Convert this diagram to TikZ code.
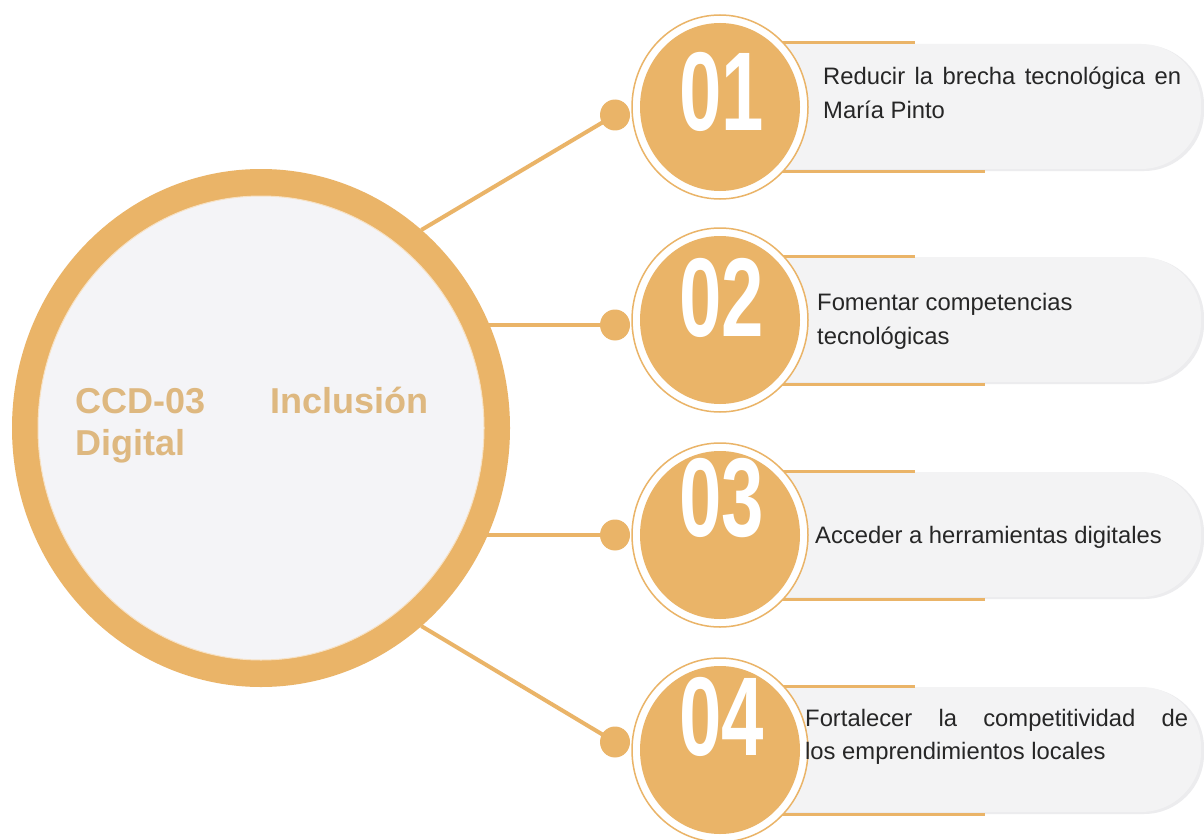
\documentclass[tikz,border=0pt]{standalone}
\usepackage{fontspec}
\usepackage{graphicx}
\setmainfont{Liberation Sans}
\usetikzlibrary{shapes.geometric}
\definecolor{ora}{RGB}{234,180,104}
\definecolor{oratxt}{RGB}{222,184,128}
\definecolor{pillgray}{RGB}{243,243,244}
\definecolor{pillshadow}{RGB}{236,236,238}
\definecolor{innergray}{RGB}{244,244,247}
\definecolor{txt}{RGB}{38,38,38}
\pgfdeclarelayer{bg}
\pgfdeclarelayer{lines}
\pgfsetlayers{bg,lines,main}
\begin{document}
\begin{tikzpicture}[x=1pt,y=-1pt,
  oval/.style={ellipse, inner sep=0pt, outer sep=0pt},
  conn/.style={draw=ora, line width=4pt},
  bar/.style={draw=ora, line width=3pt},
  numtxt/.style={text=white, inner sep=0pt, font=\fontsize{112}{112}\selectfont\bfseries},
  itemtxt/.style={text=txt, inner sep=0pt, anchor=base west, font=\fontsize{23.8}{34}\selectfont},
  maintxt/.style={text=oratxt, inner sep=0pt, anchor=base west, font=\fontsize{36}{43}\selectfont\bfseries}]
\begin{pgfonlayer}{bg}
\fill[white] (0,0) rectangle (1204,840);
\end{pgfonlayer}
\useasboundingbox (0,0) rectangle (1204,840);

% main circle
\node[oval, fill=ora, minimum width=498pt, minimum height=518pt] (main) at (261,428) {};
\node[oval, fill=innergray, draw=white!60!ora, line width=1pt, minimum width=446pt, minimum height=464pt] (maininner) at (main.center) {};
\node[maintxt] (mt1) at (75,413) {\makebox[353pt][s]{CCD-03 Inclusión}};
\node[maintxt] (mt2) at (75,455) {Digital};

% badges
\foreach \i/\cy/\dy/\ny/\num in {1/107/115/92/01, 2/320/325/298/02, 3/535/535/498/03, 4/750/742/717/04}{
  \fill[pillshadow, rounded corners=60pt] (722,\cy-62) rectangle (1204,\cy+64);
  \fill[pillgray, rounded corners=60pt] (720,\cy-63) rectangle (1201,\cy+62);
  \draw[bar] (725,\cy-64) -- (915,\cy-64);
  \draw[bar] (725,\cy+64) -- (985,\cy+64);
  \node[oval, draw=ora, line width=1.5pt, fill=white, minimum width=176pt, minimum height=184pt] (b\i) at (720,\cy) {};
  \node[oval, fill=ora, minimum width=160pt, minimum height=168pt] (f\i) at (b\i.center) {};
  \node[oval, fill=ora, minimum width=30pt, minimum height=31pt] (d\i) at (615,\dy) {};
  \node[numtxt] (n\i) at (722,\ny) {\scalebox{0.68}[1]{\num}};
}

% connectors
\begin{pgfonlayer}{lines}
\draw[conn] (main.51) -- (d1.center);
\draw[conn] (main.center |- d2.center) -- (d2.center);
\draw[conn] (main.center |- d3.center) -- (d3.center);
\draw[conn] (main.-51) -- (d4.center);
\end{pgfonlayer}

% item texts
\node[itemtxt] (t1a) at (823,85) {\makebox[358pt][s]{Reducir la brecha tecnológica en}};
\node[itemtxt] (t1b) at (823,119) {María Pinto};
\node[itemtxt] (t2a) at (817,310) {Fomentar competencias};
\node[itemtxt] (t2b) at (817,344) {tecnológicas};
\node[itemtxt] (t3a) at (815,543) {Acceder a herramientas digitales};
\node[itemtxt] (t4a) at (805,726) {\makebox[383pt][s]{Fortalecer la competitividad de}};
\node[itemtxt] (t4b) at (805,759) {los emprendimientos locales};
\end{tikzpicture}
\end{document}
